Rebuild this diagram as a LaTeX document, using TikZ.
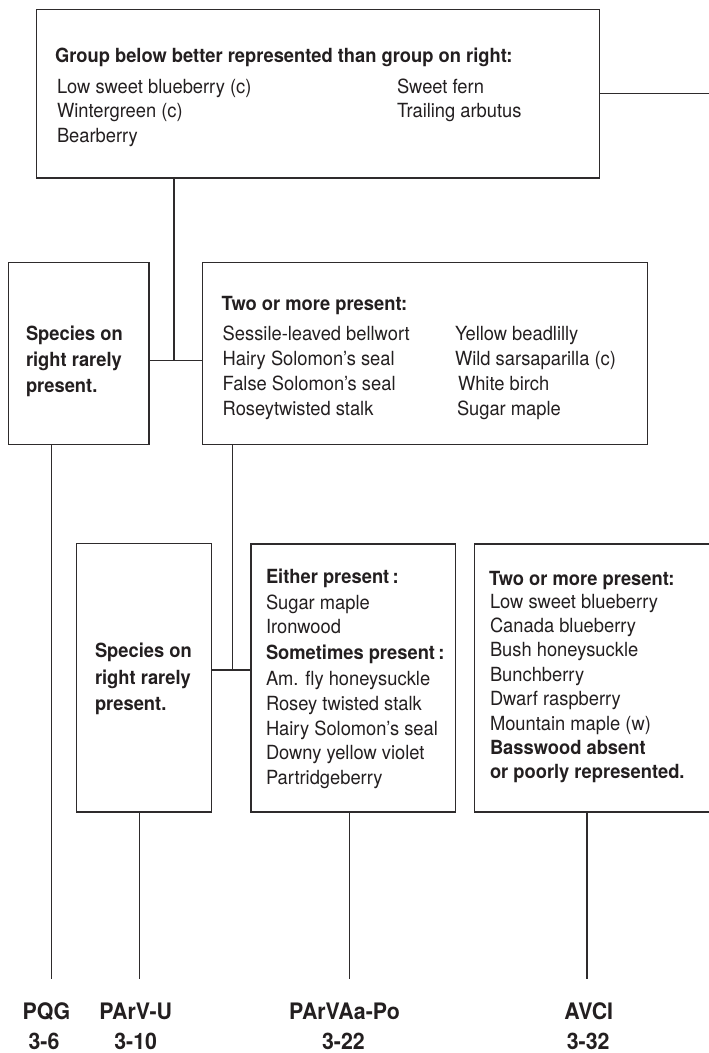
\documentclass[tikz,border=0pt]{standalone}
\usepackage{fontspec}
\setmainfont{TeX Gyre Heros}[FakeStretch=0.94]
\definecolor{ink}{HTML}{231F20}
\definecolor{linec}{HTML}{2E2B2C}
\begin{document}
\begin{tikzpicture}[x=1pt,y=-1pt,
  box/.style={draw=linec, line width=1.4pt, rectangle, inner sep=0pt, outer sep=0pt},
  txt/.style={anchor=base west, inner sep=0pt, outer sep=0pt, text=ink,
              font=\fontsize{19.5}{24}\selectfont},
  hd/.style={txt, font=\fontsize{19.5}{24}\selectfont\bfseries},
  lab/.style={anchor=base, inner sep=0pt, outer sep=0pt, text=ink,
              font=\fontsize{22.7}{26}\selectfont\bfseries},
  wire/.style={draw=linec, line width=1.3pt}]
\useasboundingbox (0,0) rectangle (709,1053);
\clip (0,0) rectangle (709,1053);

% ---- boxes ----
\node[box, minimum width=562.6pt, minimum height=168.7pt] (top) at (318,93.65) {};
\node[box, minimum width=140.3pt, minimum height=182.4pt] (L1) at (78.85,353.5) {};
\node[box, minimum width=444.6pt, minimum height=182.4pt] (M1) at (425,353.5) {};
\node[box, minimum width=135pt, minimum height=268.5pt] (L2) at (144.2,677.75) {};
\node[box, minimum width=204.7pt, minimum height=268pt] (M2) at (353.35,678) {};
\node[box, minimum width=255.7pt, minimum height=268pt] (R2) at (602.15,678) {};

% ---- top box text ----
\node[hd] (t0) at (55,62.3) {Group below better represented than group on right:};
\node[txt] (t1) at (57,93.3) {Low sweet blueberry (c)};
\node[txt] (t2) at (57,117.7) {Wintergreen (c)};
\node[txt] (t3) at (57,142.2) {Bearberry};
\node[txt] (t4) at (397,93.3) {Sweet fern};
\node[txt] (t5) at (397,117.7) {Trailing arbutus};

% ---- first "rarely present" box ----
\node[hd] (a1) at (26,340) {Species on};
\node[hd] (a2) at (26,366.3) {right rarely};
\node[hd] (a3) at (26,392.6) {present.};

% ---- "two or more present" box ----
\node[hd] (m0) at (221.7,310) {Two or more present:};
\node[txt] (m1) at (222.7,340) {Sessile-leaved bellwort};
\node[txt] (m2) at (222.7,365) {Hairy Solomon’s seal};
\node[txt] (m3) at (222.7,390) {False Solomon’s seal};
\node[txt] (m4) at (222.7,415) {Roseytwisted stalk};
\node[txt] (m5) at (455,340) {Yellow beadlilly};
\node[txt] (m6) at (455,365) {Wild sarsaparilla (c)};
\node[txt] (m7) at (458,390) {White birch};
\node[txt] (m8) at (457,415) {Sugar maple};

% ---- second "rarely present" box ----
\node[hd] (b1) at (95,657.5) {Species on};
\node[hd] (b2) at (95,684) {right rarely};
\node[hd] (b3) at (95,710.5) {present.};

% ---- "either present" box ----
\node[hd] (c0) at (266,583.5) {Either present\,:};
\node[txt] (c1) at (266,609) {Sugar maple};
\node[txt] (c2) at (266,633.5) {Ironwood};
\node[hd] (c3) at (266,659) {Sometimes present\,:};
\node[txt] (c4) at (266,685) {Am. fly honeysuckle};
\node[txt] (c5) at (266,710) {Rosey twisted stalk};
\node[txt] (c6) at (266,735) {Hairy Solomon’s seal};
\node[txt] (c7) at (266,759.5) {Downy yellow violet};
\node[txt] (c8) at (266,784) {Partridgeberry};

% ---- right-hand "two or more present" box ----
\node[hd] (d0) at (489,585) {Two or more present:};
\node[txt] (d1) at (490,608) {Low sweet blueberry};
\node[txt] (d2) at (490,632.4) {Canada blueberry};
\node[txt] (d3) at (490,656.8) {Bush honeysuckle};
\node[txt] (d4) at (490,681.2) {Bunchberry};
\node[txt] (d5) at (490,705.6) {Dwarf raspberry};
\node[txt] (d6) at (490,730) {Mountain maple (w)};
\node[hd] (d7) at (490,754.4) {Basswood absent};
\node[hd] (d8) at (490,778.8) {or poorly represented.};

% ---- connectors ----
\coordinate (J1) at (174,360.7);
\coordinate (J2) at (232.3,670);
\coordinate (Eright) at (709,93.3);
\draw[wire] (top.south -| J1) -- (J1);
\draw[wire] (L1.east |- J1) -- (M1.west |- J1);
\draw[wire] (top.east |- Eright) -- (Eright);
\draw[wire] (M1.south -| J2) -- (J2);
\draw[wire] (L2.east |- J2) -- (M2.west |- J2);

\coordinate (e1) at (51.7,979);
\coordinate (e2) at (139.5,979);
\coordinate (e3) at (349.7,979);
\coordinate (e4) at (587,979);
\draw[wire] (L1.south -| e1) -- (e1);
\draw[wire] (L2.south -| e2) -- (e2);
\draw[wire] (M2.south -| e3) -- (e3);
\draw[wire] (R2.south -| e4) -- (e4);

% ---- end labels ----
\node[lab] (p1) at (46.4,1019) {PQG};
\node[lab] (q1) at (44,1049) {3-6};
\node[lab] (p2) at (135.7,1019) {PArV-U};
\node[lab] (q2) at (135.7,1049) {3-10};
\node[lab] (p3) at (344.5,1019) {PArVAa-Po};
\node[lab] (q3) at (343.4,1049) {3-22};
\node[lab] (p4) at (588.7,1019) {AVCI};
\node[lab] (q4) at (588.2,1049) {3-32};
\end{tikzpicture}
\end{document}
